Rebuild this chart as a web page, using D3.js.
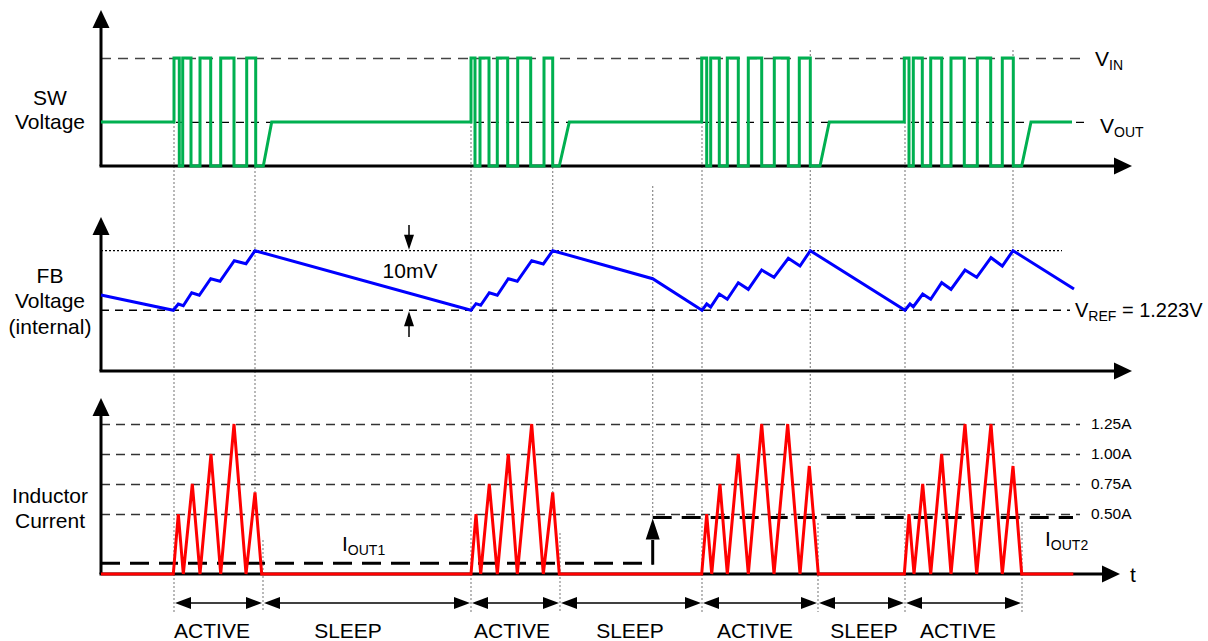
<!DOCTYPE html>
<html><head><meta charset="utf-8">
<script src="https://cdn.jsdelivr.net/npm/d3@7"></script>
<style>
body{margin:0;background:#fff}
svg{display:block}
text{font-family:"Liberation Sans",Arial,Helvetica,sans-serif;fill:#000}
</style>
</head><body>
<svg id="c" width="1208" height="641"></svg>
<script>
// ---------------- DATA ----------------
// time in arbitrary units (µs-like)
const tMax = 103.1;
const tEndTrace = 97.1;

// SW voltage levels
const VIN = 5.0, VOUT = 2.04, GND = 0;
// switching edges for each burst (rise, fall, rise, fall ...)
const swEdges = [
  [7.3, 7.83, 8.17, 9.0, 9.9, 10.97, 11.97, 13.3, 14.57, 15.47],
  [37.0, 37.4, 37.9, 38.8, 39.63, 40.67, 41.67, 42.97, 44.3, 45.17],
  [60.07, 60.57, 60.97, 61.83, 62.63, 63.73, 64.73, 66.07, 67.33, 68.73, 69.83, 70.93],
  [80.33, 80.8, 81.23, 82.13, 82.97, 84.07, 85.0, 86.33, 87.63, 88.97, 90.13, 91.23]
];
const swRingStart = [16.23, 45.83, 71.9, 92.07];
const swRingEnd   = [17.07, 46.83, 72.83, 93.0];

// FB voltage (V) vertices
const fbTimes = [0, 7.23, 7.73, 8.23, 9.07, 9.83, 10.97, 11.9, 13.33, 14.5, 15.4,
  37.0, 37.5, 37.97, 38.83, 39.63, 40.73, 41.63, 43.07, 44.23, 45.17, 55.17,
  60.1, 60.57, 60.97, 61.83, 62.63, 63.73, 64.73, 66.07, 67.3, 68.73, 69.9, 70.93,
  80.4, 80.9, 81.23, 82.17, 82.97, 84.07, 85.0, 86.4, 87.57, 89.0, 90.13, 91.2, 97.3];
const fbVolts = [1.22557, 1.2230, 1.22406, 1.22377, 1.22595, 1.22552, 1.2283, 1.22787, 1.23132, 1.23082, 1.2330,
  1.2230, 1.22411, 1.22384, 1.22595, 1.22552, 1.2283, 1.22787, 1.23132, 1.23077, 1.2330, 1.2283,
  1.2230, 1.22406, 1.22355, 1.22573, 1.22485, 1.22763, 1.22652, 1.22976, 1.22854, 1.23172, 1.23043, 1.2330,
  1.2230, 1.22406, 1.2236, 1.22573, 1.22485, 1.22763, 1.22652, 1.22976, 1.22854, 1.23183, 1.23043, 1.2330, 1.22657];
const VREF = 1.223;
const fbRipple = 0.010;

// Inductor current (A) vertices
const iTimes = [0, 7.23, 7.73, 8.23, 9.13, 9.9, 11.0, 11.97, 13.3, 14.5, 15.4, 16.07,
  37.0, 37.5, 37.97, 38.83, 39.63, 40.73, 41.63, 43.07, 44.23, 45.17, 45.83,
  60.07, 60.57, 61.07, 61.9, 62.63, 63.73, 64.73, 66.07, 67.3, 68.67, 69.9, 70.83, 71.73,
  80.33, 80.8, 81.3, 82.17, 82.97, 84.07, 85.0, 86.4, 87.57, 89.0, 90.13, 91.2, 92.07, 97.23];
const iAmps = [0, 0, 0.5, 0, 0.75, 0, 1.0, 0, 1.25, 0, 0.68, 0,
  0, 0.5, 0, 0.75, 0, 1.0, 0, 1.25, 0, 0.68, 0,
  0, 0.5, 0, 0.75, 0, 1.0, 0, 1.25, 0, 1.25, 0, 0.9, 0,
  0, 0.5, 0, 0.75, 0, 1.0, 0, 1.25, 0, 1.25, 0, 0.9, 0, 0];
const iTicks = [0.5, 0.75, 1.0, 1.25];
const iout1 = 0.09, iout2 = 0.47, ioutStepT = 55.17;

// phases
const phaseBounds = [7.3, 16.2, 37.0, 45.9, 60.1, 71.7, 80.4, 92.1];
const phaseNames = ["ACTIVE", "SLEEP", "ACTIVE", "SLEEP", "ACTIVE", "SLEEP", "ACTIVE"];
const phaseLabelT = [11.1, 24.7, 41.1, 52.9, 65.4, 76.3, 85.7];

// ---------------- SCALES ----------------
const x = d3.scaleLinear().domain([0, tMax]).range([101, 1132]);
const ySW = d3.scaleLinear().domain([0, 5]).range([166, 58]);
const yFB = d3.scaleLinear().domain([VREF, VREF + fbRipple]).range([310.3, 250.7]);
const yI = d3.scaleLinear().domain([0, 1.25]).range([574, 424]);

const svg = d3.select("#c");
const FONT = 21;

function tri(g, tipX, tipY, dir, len, half, fill) {
  let p;
  if (dir === "up") p = [[tipX, tipY], [tipX - half, tipY + len], [tipX + half, tipY + len]];
  else if (dir === "down") p = [[tipX, tipY], [tipX - half, tipY - len], [tipX + half, tipY - len]];
  else if (dir === "right") p = [[tipX, tipY], [tipX - len, tipY - half], [tipX - len, tipY + half]];
  else p = [[tipX, tipY], [tipX + len, tipY - half], [tipX + len, tipY + half]];
  g.append("path").attr("d", "M" + p.map(d => d.join(",")).join("L") + "Z").attr("fill", fill || "#000");
}
function subLabel(x0, y0, main, subTxt, rest, fs, sfs) {
  const t = svg.append("text").attr("x", x0).attr("y", y0).style("font-size", fs + "px");
  t.append("tspan").text(main);
  t.append("tspan").attr("dy", 4).style("font-size", sfs + "px").text(subTxt);
  if (rest) t.append("tspan").attr("dy", -4).style("font-size", fs + "px").text(rest);
}

// ---------------- GUIDE LINES (dotted) ----------------
const gGuide = svg.append("g").attr("stroke", "#8a8a8a").attr("stroke-width", 1.2).attr("stroke-dasharray", "2,2");
const bottomGuide = 612;
// active starts: from VOUT level down to bottom
[0, 2, 4, 6].forEach(k => {
  gGuide.append("line").attr("x1", x(phaseBounds[k])).attr("x2", x(phaseBounds[k]))
    .attr("y1", ySW(VOUT)).attr("y2", bottomGuide);
});
// active ends: short lines near the arrows
[[1, 540], [3, 533], [5, 523], [7, 522]].forEach(([k, top]) => {
  gGuide.append("line").attr("x1", x(phaseBounds[k])).attr("x2", x(phaseBounds[k]))
    .attr("y1", top).attr("y2", bottomGuide);
});
// FB peaks: down to last current peak
[[15.4, ySW(0) + 1, 0.68], [45.17, ySW(0) + 1, 0.68], [70.93, 50, 0.9], [91.2, 50, 0.9]].forEach(([t, top, pk]) => {
  gGuide.append("line").attr("x1", x(t)).attr("x2", x(t)).attr("y1", top).attr("y2", yI(pk));
});
// knee line at load step
gGuide.append("line").attr("x1", x(ioutStepT)).attr("x2", x(ioutStepT)).attr("y1", 186).attr("y2", yI(iout2));

// ---------------- PANEL 1: SW ----------------
const p1 = svg.append("g");
const swGrid = d3.axisLeft(ySW).tickValues([VOUT, VIN]).tickSize(-(1086 - 101)).tickFormat("");
const gsw = p1.append("g").attr("transform", "translate(101,0)").call(swGrid);
gsw.select(".domain").remove();
gsw.selectAll(".tick line").attr("stroke", "#444").attr("stroke-width", 1.5).attr("stroke-dasharray", "10,7");
gsw.selectAll(".tick").filter(d => d === VOUT).select("line").attr("stroke", "#000").attr("stroke-width", 1.3).attr("stroke-dasharray", "8,7");

// build SW vertices
const swPts = [[0, VOUT]];
swEdges.forEach((edges, b) => {
  edges.forEach((e, i) => {
    const before = i === 0 ? VOUT : (i % 2 === 0 ? GND : VIN);
    const after = i % 2 === 0 ? VIN : GND;
    swPts.push([e, before], [e, after]);
  });
  swPts.push([swRingStart[b], GND], [swRingEnd[b], VOUT]);
});
swPts.push([tEndTrace, VOUT]);

// axes panel 1
p1.append("line").attr("x1", 101).attr("x2", 101).attr("y1", ySW(0)).attr("y2", 26).attr("stroke", "#000").attr("stroke-width", 3);
tri(p1, 101, 10, "up", 18, 8.5);
p1.append("line").attr("x1", 99.5).attr("x2", 1115).attr("y1", ySW(0)).attr("y2", ySW(0)).attr("stroke", "#000").attr("stroke-width", 3);
tri(p1, 1132, ySW(0), "right", 18, 8.5);

p1.append("path").datum(swPts)
  .attr("d", d3.line().x(d => x(d[0])).y(d => ySW(d[1])))
  .attr("fill", "none").attr("stroke", "#00b050").attr("stroke-width", 3).attr("stroke-linejoin", "miter");

// labels panel 1
svg.append("text").attr("x", 50).attr("y", 105).attr("text-anchor", "middle").style("font-size", FONT + "px").text("SW");
svg.append("text").attr("x", 50).attr("y", 129).attr("text-anchor", "middle").style("font-size", FONT + "px").text("Voltage");
subLabel(1095, 66, "V", "IN", null, FONT, 14);
subLabel(1100, 133, "V", "OUT", null, FONT, 14);

// ---------------- PANEL 2: FB ----------------
const p2 = svg.append("g");
p2.append("line").attr("x1", 101).attr("x2", 1062).attr("y1", yFB(VREF + fbRipple)).attr("y2", yFB(VREF + fbRipple))
  .attr("stroke", "#000").attr("stroke-width", 1.2).attr("stroke-dasharray", "2,2");
p2.append("line").attr("x1", 101).attr("x2", 1070).attr("y1", yFB(VREF)).attr("y2", yFB(VREF))
  .attr("stroke", "#000").attr("stroke-width", 1.4).attr("stroke-dasharray", "8,6");

p2.append("line").attr("x1", 101).attr("x2", 101).attr("y1", 371).attr("y2", 234).attr("stroke", "#000").attr("stroke-width", 3);
tri(p2, 101, 217, "up", 18, 8.5);
p2.append("line").attr("x1", 99.5).attr("x2", 1115).attr("y1", 371).attr("y2", 371).attr("stroke", "#000").attr("stroke-width", 3);
tri(p2, 1132, 371, "right", 18, 8.5);

const fbPts = fbTimes.map((t, i) => [t, fbVolts[i]]);
p2.append("path").datum(fbPts)
  .attr("d", d3.line().x(d => x(d[0])).y(d => yFB(d[1])))
  .attr("fill", "none").attr("stroke", "#0000ff").attr("stroke-width", 3).attr("stroke-linejoin", "miter");

// 10mV annotation
const annX = 409;
p2.append("line").attr("x1", annX).attr("x2", annX).attr("y1", 225).attr("y2", 240).attr("stroke", "#000").attr("stroke-width", 1.5);
tri(p2, annX, yFB(VREF + fbRipple) - 1, "down", 15, 5);
p2.append("line").attr("x1", annX).attr("x2", annX).attr("y1", 322).attr("y2", 337).attr("stroke", "#000").attr("stroke-width", 1.5);
tri(p2, annX, yFB(VREF) + 1, "up", 15, 5);
svg.append("text").attr("x", 410).attr("y", 278).attr("text-anchor", "middle").style("font-size", FONT + "px").text("10mV");

svg.append("text").attr("x", 50).attr("y", 283).attr("text-anchor", "middle").style("font-size", FONT + "px").text("FB");
svg.append("text").attr("x", 50).attr("y", 308).attr("text-anchor", "middle").style("font-size", FONT + "px").text("Voltage");
svg.append("text").attr("x", 50).attr("y", 334).attr("text-anchor", "middle").style("font-size", FONT + "px").text("(internal)");
subLabel(1075, 317, "V", "REF", " = " + VREF.toFixed(3) + "V", 20, 14);

// ---------------- PANEL 3: Inductor current ----------------
const p3 = svg.append("g");
const iGrid = d3.axisLeft(yI).tickValues(iTicks).tickSize(-(1080 - 101)).tickFormat("");
const gig = p3.append("g").attr("transform", "translate(101,0)").call(iGrid);
gig.select(".domain").remove();
gig.selectAll(".tick line").attr("stroke", "#333").attr("stroke-width", 1.5).attr("stroke-dasharray", "9,6");

const iAxis = d3.axisRight(yI).tickValues(iTicks).tickSize(0).tickPadding(0).tickFormat(d => d.toFixed(2) + "A");
const gia = p3.append("g").attr("transform", "translate(1091,0)").call(iAxis);
gia.select(".domain").remove();
gia.selectAll("text").attr("fill", "#000").style("font-size", "15.5px").style("font-family", "'Liberation Sans', Arial, sans-serif");

// IOUT dashed lines
p3.append("line").attr("x1", 101).attr("x2", x(ioutStepT)).attr("y1", yI(iout1)).attr("y2", yI(iout1))
  .attr("stroke", "#000").attr("stroke-width", 3).attr("stroke-dasharray", "19,10");
p3.append("line").attr("x1", x(ioutStepT)).attr("x2", 1073).attr("y1", yI(iout2)).attr("y2", yI(iout2))
  .attr("stroke", "#000").attr("stroke-width", 3).attr("stroke-dasharray", "19,10");
p3.append("line").attr("x1", x(ioutStepT)).attr("x2", x(ioutStepT)).attr("y1", yI(iout1) + 1.5).attr("y2", 540)
  .attr("stroke", "#000").attr("stroke-width", 3);
tri(p3, x(ioutStepT), yI(iout2) + 1, "up", 21, 7);

// axes panel 3
p3.append("line").attr("x1", 101).attr("x2", 101).attr("y1", 574).attr("y2", 415).attr("stroke", "#000").attr("stroke-width", 3);
tri(p3, 101, 398, "up", 18, 8.5);
p3.append("line").attr("x1", 99.5).attr("x2", 1103).attr("y1", 574).attr("y2", 574).attr("stroke", "#000").attr("stroke-width", 3);
tri(p3, 1120, 574, "right", 18, 8.5);

const iPts = iTimes.map((t, i) => [t, iAmps[i]]);
p3.append("path").datum(iPts)
  .attr("d", d3.line().x(d => x(d[0])).y(d => yI(d[1])))
  .attr("fill", "none").attr("stroke", "#ff0000").attr("stroke-width", 3).attr("stroke-linejoin", "miter");

svg.append("text").attr("x", 50).attr("y", 503).attr("text-anchor", "middle").style("font-size", FONT + "px").text("Inductor");
svg.append("text").attr("x", 50).attr("y", 528).attr("text-anchor", "middle").style("font-size", FONT + "px").text("Current");
subLabel(342, 551, "I", "OUT1", null, FONT, 14);
subLabel(1045, 546, "I", "OUT2", null, FONT, 14);
svg.append("text").attr("x", 1130).attr("y", 582).style("font-size", FONT + "px").text("t");

// ---------------- PHASE ARROWS ----------------
const gPh = svg.append("g");
const arrowY = 603;
phaseNames.forEach((name, i) => {
  const a = x(phaseBounds[i]), b = x(phaseBounds[i + 1]);
  gPh.append("line").attr("x1", a + 14).attr("x2", b - 14).attr("y1", arrowY).attr("y2", arrowY)
    .attr("stroke", "#000").attr("stroke-width", 1.5);
  tri(gPh, a + 1, arrowY, "left", 16, 6);
  tri(gPh, b - 1, arrowY, "right", 16, 6);
  gPh.append("text").attr("x", x(phaseLabelT[i])).attr("y", 638).attr("text-anchor", "middle")
    .style("font-size", FONT + "px").text(name);
});
</script>
</body></html>
